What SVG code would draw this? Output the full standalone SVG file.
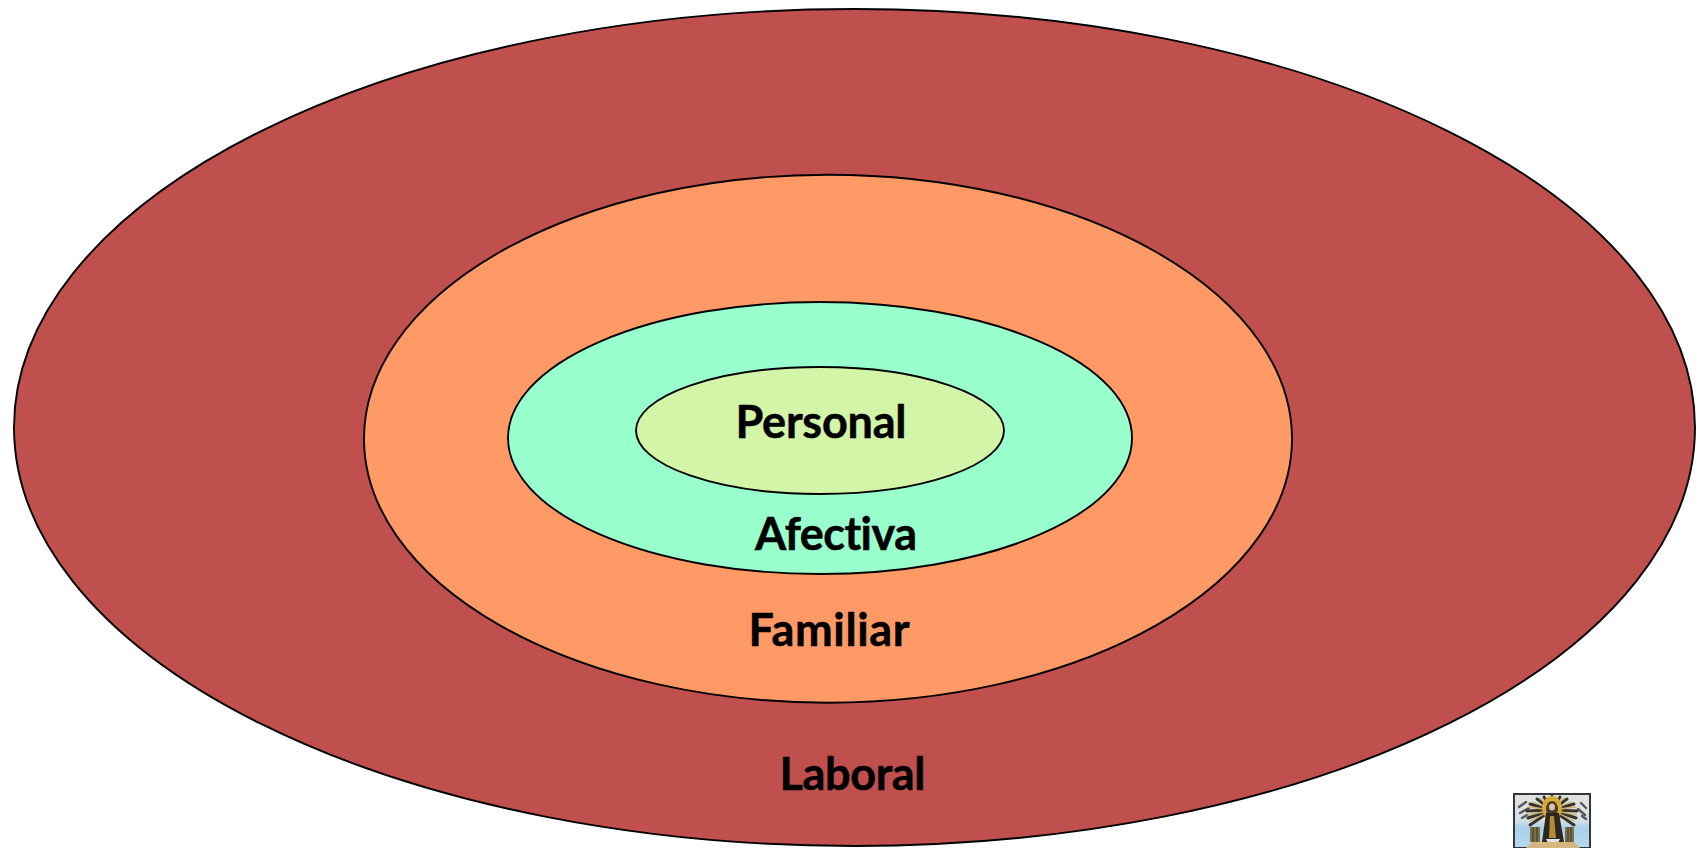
<svg xmlns="http://www.w3.org/2000/svg" width="1708" height="848" viewBox="0 0 1708 848">
<style>
.ring{stroke:#000;stroke-width:1.9}
.lbl{font-family:"Lato","Liberation Sans",sans-serif;font-weight:700;font-size:45px;fill:#000;stroke:#000;stroke-width:.5;text-anchor:middle;font-variant-ligatures:none}
.ray{stroke:#3a3428;stroke-width:3;stroke-linecap:round}
.ray2{stroke:#cdb06a;stroke-width:1.3;stroke-linecap:round}
</style>
<defs>
<linearGradient id="sky" x1="0" y1="0" x2="0" y2="1"><stop offset="0" stop-color="#e2e2e2"/><stop offset=".5" stop-color="#d6dfe4"/><stop offset=".62" stop-color="#a9d0ea"/><stop offset="1" stop-color="#b5d8ee"/></linearGradient>
<clipPath id="logoClip"><rect x="1513" y="793" width="78" height="55"/></clipPath>
</defs>
<rect width="1708" height="848" fill="#fff"/>
<g id="laboral"><ellipse class="ring" cx="854.5" cy="427.5" rx="840.5" ry="418.5" fill="#c0504d"/><text class="lbl" x="852.5" y="790" textLength="146">Laboral</text></g>
<g id="familiar"><ellipse class="ring" cx="828" cy="438.7" rx="464" ry="264" fill="#ff9966"/><text class="lbl" x="829" y="646" textLength="161">Familiar</text></g>
<g id="afectiva"><ellipse class="ring" cx="820" cy="438" rx="312" ry="136" fill="#99ffcc"/><text class="lbl" x="836" y="550" textLength="162">Afectiva</text></g>
<g id="personal"><ellipse class="ring" cx="820" cy="430.5" rx="184" ry="63.5" fill="#d3f5a8"/><text class="lbl" x="821" y="438" textLength="171">Personal</text></g>
<g id="logo" clip-path="url(#logoClip)">
<rect x="1514" y="794" width="76" height="54" fill="url(#sky)" stroke="#33363a" stroke-width="2"/>
<path d="M1519 807l7-5M1520 813l9-5M1522 818l5-3M1581 803l5 5M1578 809l7 6M1582 816l4 3" stroke="#55585a" stroke-width="2.4" stroke-linecap="round" fill="none"/>
<g fill="none">
<path class="ray" d="M1552 810L1552 796M1552 810L1544 797M1552 810L1560 797M1552 810L1537 799M1552 810L1567 799M1552 810L1530 804M1552 810L1574 804M1552 810L1527 811M1552 810L1577 811M1552 810L1528 818M1552 810L1576 818M1552 810L1530 825M1552 810L1574 825"/>
<path class="ray2" d="M1552 810L1548 797M1552 810L1556 797M1552 810L1540 798M1552 810L1564 798M1552 810L1533 802M1552 810L1571 802M1552 810L1528 807M1552 810L1576 807M1552 810L1528 815M1552 810L1576 815M1552 810L1530 821M1552 810L1574 821"/>
</g>
<ellipse cx="1552" cy="808" rx="10" ry="12" fill="#d9a93a"/>
<ellipse cx="1552" cy="809" rx="6" ry="8" fill="#4a3a2a"/>
<ellipse cx="1552" cy="807" rx="3" ry="3.6" fill="#d8c4a8"/>
<path d="M1546 813L1559 813L1564 842L1542 842Z" fill="#2c2620"/>
<path d="M1550 816L1554 816L1556 838L1549 838Z" fill="#b08a35"/>
<rect x="1530" y="827" width="10" height="15" fill="#7d7048"/>
<rect x="1565" y="827" width="9" height="15" fill="#7d7048"/>
<path d="M1533 827v15M1537 827v15M1568 827v15M1571 827v15" stroke="#3a3428" stroke-width="1"/>
<path d="M1546 839h14l-2 4h-10z" fill="#dfe6ea"/>
<path d="M1526 848l6-6h42l6 6z" fill="#d4b67e"/>
</g>
</svg>
